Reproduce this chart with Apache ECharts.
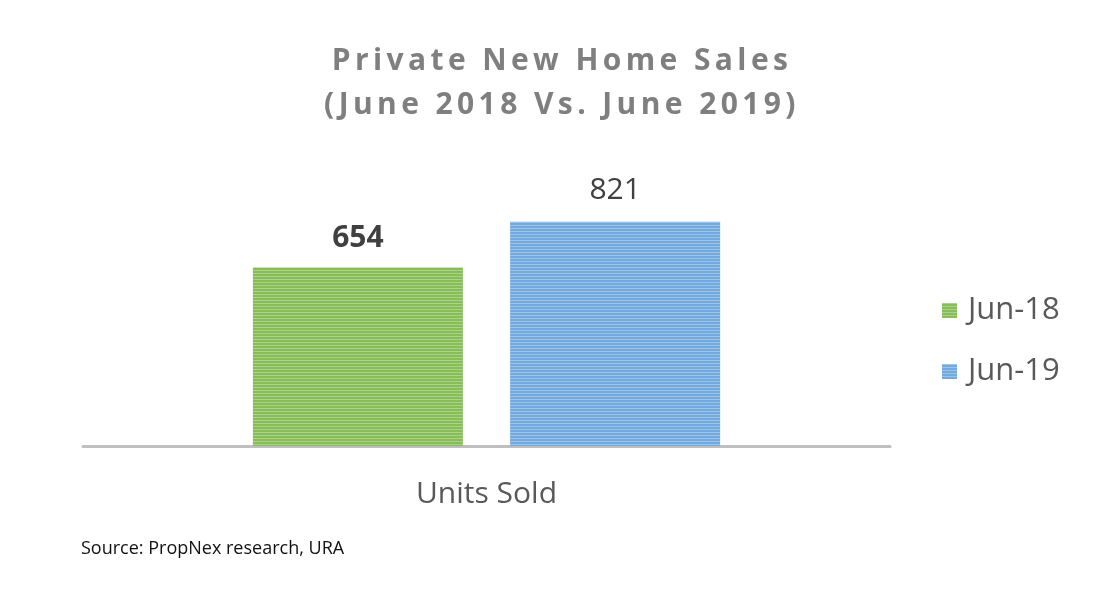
<!DOCTYPE html>
<html lang="en">
<head>
	<meta charset="UTF-8">
	<title>Private New Home Sales</title>
	<script src="https://cdn.jsdelivr.net/npm/echarts@6/dist/echarts.min.js"></script>
	<style>
		body { margin: 0; background: #fff; }
		#wrap { position: relative; width: 1111px; height: 591px; }
		#chartTitle {
			position: absolute; left: 0; top: 37px; width: 1124px;
			text-align: center; font-family: 'Open Sans', 'Noto Sans', sans-serif;
			font-weight: bold; font-size: 30px; line-height: 44px;
			letter-spacing: 4.4px; color: #7f7f7f;
		}
	</style>
</head>
<body>
	<div id="wrap">
		<div id="salesChart" style="width: 1111px; height: 591px;"></div>
		<div id="chartTitle">Private New Home Sales<br>(June 2018 Vs. June 2019)</div>
	</div>
	<script type="text/javascript">

		const categories = ['Units Sold'];
		const seriesNames = ['Jun-18', 'Jun-19'];
		const jun18 = [654];
		const jun19 = [821];
		const sourceNote = 'Source: PropNex research, URA';

		const chart = echarts.init(document.getElementById('salesChart'));

		// horizontal light stripes like the original fill
		const stripes = (c) => ({
			color: c,
			symbol: 'rect',
			symbolSize: 1,
			dashArrayX: [1, 0],
			dashArrayY: [1, 2],
			rotation: 0
		});

		chart.setOption({
			textStyle: { fontFamily: "'Open Sans', 'Noto Sans', sans-serif" },
			graphic: [{
				type: 'text',
				left: 81,
				top: 540,
				style: { text: sourceNote, fontSize: 18, fill: '#111', fontFamily: "'Open Sans', sans-serif" }
			}],
			legend: {
				orient: 'vertical',
				left: 937,
				top: 290,
				itemWidth: 15,
				itemHeight: 15,
				itemGap: 30,
				icon: 'rect',
				textStyle: { fontSize: 31, color: '#595959', padding: [0, 0, 0, 6] },
				data: seriesNames
			},
			grid: { left: 83, right: 221, top: 173, bottom: 145 },
			xAxis: {
				type: 'category',
				data: categories,
				axisLine: { lineStyle: { color: '#bfbfbf', width: 3 } },
				axisTick: { show: false },
				axisLabel: { fontSize: 30, color: '#595959', margin: 33 }
			},
			yAxis: {
				type: 'value',
				min: 0,
				max: 1000,
				show: false,
				splitLine: { show: false }
			},
			series: [{
				name: seriesNames[0],
				type: 'bar',
				barWidth: 210,
				barGap: '22.5%',
				data: jun18,
				itemStyle: { color: '#86bd57', decal: stripes('rgba(255,255,255,0.3)') },
				label: { show: true, position: 'top', distance: 14, fontSize: 30, fontWeight: 'bold', color: '#404040' }
			}, {
				name: seriesNames[1],
				type: 'bar',
				barWidth: 210,
				data: jun19,
				itemStyle: { color: '#72a9de', decal: stripes('rgba(255,255,255,0.3)') },
				label: { show: true, position: 'top', distance: 16, fontSize: 30, color: '#404040' }
			}]
		});
	</script>
</body>
</html>
